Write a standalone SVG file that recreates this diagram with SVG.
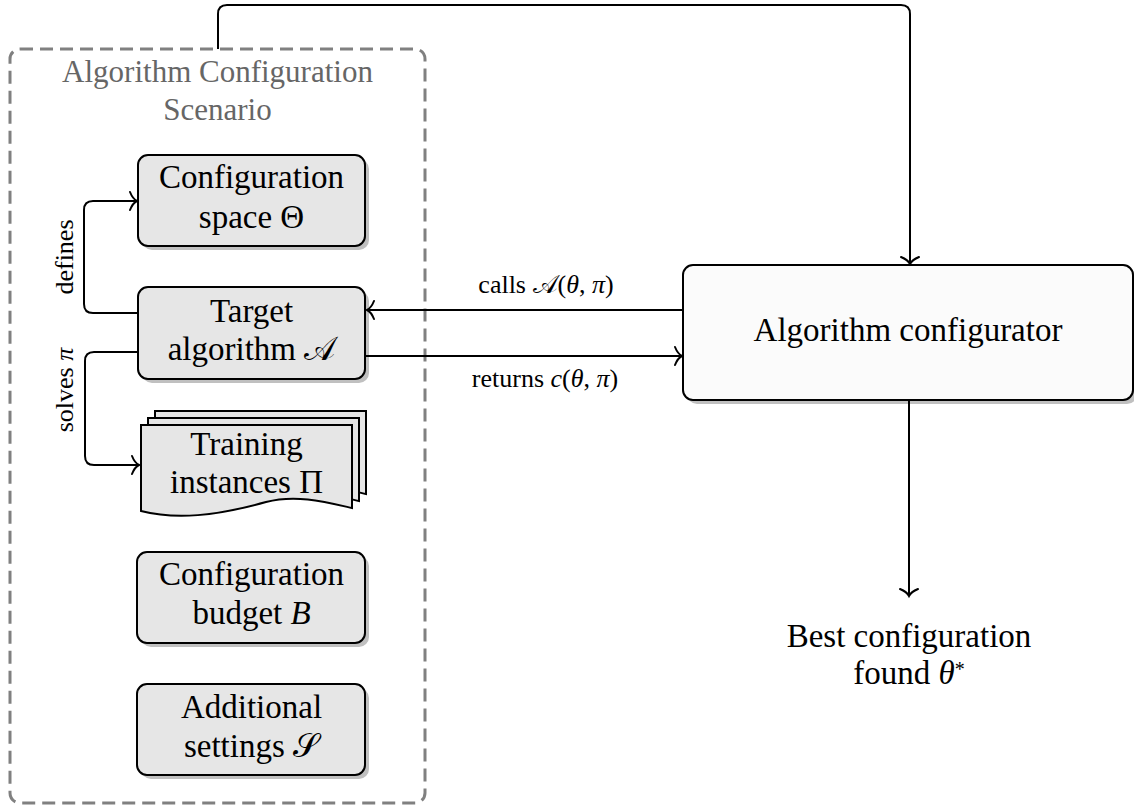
<svg xmlns="http://www.w3.org/2000/svg" width="1134" height="807" viewBox="0 0 1134 807">
<style>
.t{font-family:"Liberation Serif","DejaVu Serif",serif;fill:#000}
.n{font-size:33px;text-anchor:middle}
.l{font-size:26px;text-anchor:middle}
.box{fill:#e6e6e6;stroke:#000;stroke-width:2}
.sh{fill:#c0c0c0;stroke:none}
.c{fill:none;stroke:#000;stroke-width:2}
.m{font-family:"Liberation Serif","DejaVu Serif","DejaVu Sans",serif}
</style>
<defs>
<marker id="to" markerUnits="userSpaceOnUse" viewBox="-12 -12 24 24" markerWidth="24" markerHeight="24" refX="0" refY="0" orient="auto">
<path d="M-7,-9 C-5,-4 -2,-1 0,0 C-2,1 -5,4 -7,9" fill="none" stroke="#000" stroke-width="2" stroke-linecap="round"/>
</marker>
</defs>
<rect x="0" y="0" width="1134" height="807" fill="#fff"/>

<g id="scenario">
<rect x="10" y="49" width="415" height="754" rx="10" fill="none" stroke="#808080" stroke-width="3" stroke-dasharray="13 7"/>
<text class="t" x="217.5" y="82" font-size="31" text-anchor="middle" style="fill:#666">Algorithm Configuration</text>
<text class="t" x="217.5" y="120" font-size="31" text-anchor="middle" style="fill:#666">Scenario</text>
</g>

<g id="space">
<rect class="sh" x="142" y="159" width="227" height="91" rx="10"/>
<rect class="box" x="138" y="155" width="227" height="91" rx="10"/>
<text class="t n" x="251.5" y="188">Configuration</text>
<text class="t n" x="251.5" y="228">space Θ</text>
</g>

<g id="target">
<rect class="sh" x="142" y="291" width="227" height="92" rx="10"/>
<rect class="box" x="138" y="287" width="227" height="92" rx="10"/>
<text class="t n" x="251.5" y="322">Target</text>
<text class="t n" x="251.5" y="360">algorithm <tspan class="m">𝒜</tspan></text>
</g>

<g id="training">
<path class="box" d="M155,411 H366 V494 C340,488 310,480 280,488 C230,502 190,506 155,497 Z"/>
<path class="box" d="M148,418 H359 V501 C333,495 303,487 273,495 C223,509 183,513 148,504 Z"/>
<path class="box" d="M141,425 H352 V508 C326,502 296,494 266,502 C216,516 176,520 141,511 Z"/>
<text class="t n" x="246.5" y="455">Training</text>
<text class="t n" x="246.5" y="493">instances Π</text>
</g>

<g id="budget">
<rect class="sh" x="141" y="556" width="228" height="91" rx="10"/>
<rect class="box" x="137" y="552" width="228" height="91" rx="10"/>
<text class="t n" x="251.5" y="585">Configuration</text>
<text class="t n" x="251.5" y="624">budget <tspan font-style="italic">B</tspan></text>
</g>

<g id="settings">
<rect class="sh" x="141" y="688" width="228" height="91" rx="10"/>
<rect class="box" x="137" y="684" width="228" height="91" rx="10"/>
<text class="t n" x="251.5" y="718">Additional</text>
<text class="t n" x="251.5" y="757">settings <tspan class="m">𝒮</tspan></text>
</g>

<g id="configurator">
<rect class="sh" x="687" y="269" width="450" height="135" rx="10"/>
<rect x="683" y="265" width="450" height="135" rx="10" fill="#fbfbfb" stroke="#000" stroke-width="2"/>
<text class="t n" x="908" y="341">Algorithm configurator</text>
</g>

<g id="result">
<text class="t n" x="909" y="647">Best configuration</text>
<text class="t n" x="909" y="684">found <tspan font-style="italic">θ</tspan><tspan font-size="20" dy="-8">*</tspan></text>
</g>

<g id="connectors">
<path class="c" d="M218,49 V14 Q218,5 227,5 H901 Q910,5 910,14 V264" marker-end="url(#to)"/>
<path class="c" d="M138,313 H93 Q84,313 84,304 V210 Q84,201 93,201 H137" marker-end="url(#to)"/>
<path class="c" d="M138,352 H94 Q85,352 85,361 V456 Q85,465 94,465 H139" marker-end="url(#to)"/>
<path class="c" d="M683,310 H367" marker-end="url(#to)"/>
<path class="c" d="M365,356 H682" marker-end="url(#to)"/>
<path class="c" d="M909,401 V596" marker-end="url(#to)"/>
<text class="t l" transform="translate(73,257) rotate(-90)">defines</text>
<text class="t l" transform="translate(73,390) rotate(-90)">solves <tspan font-style="italic">π</tspan></text>
<text class="t l" x="546" y="293">calls <tspan class="m">𝒜</tspan>(<tspan font-style="italic">θ</tspan>, <tspan font-style="italic">π</tspan>)</text>
<text class="t l" x="545" y="387">returns <tspan font-style="italic">c</tspan>(<tspan font-style="italic">θ</tspan>, <tspan font-style="italic">π</tspan>)</text>
</g>
</svg>
